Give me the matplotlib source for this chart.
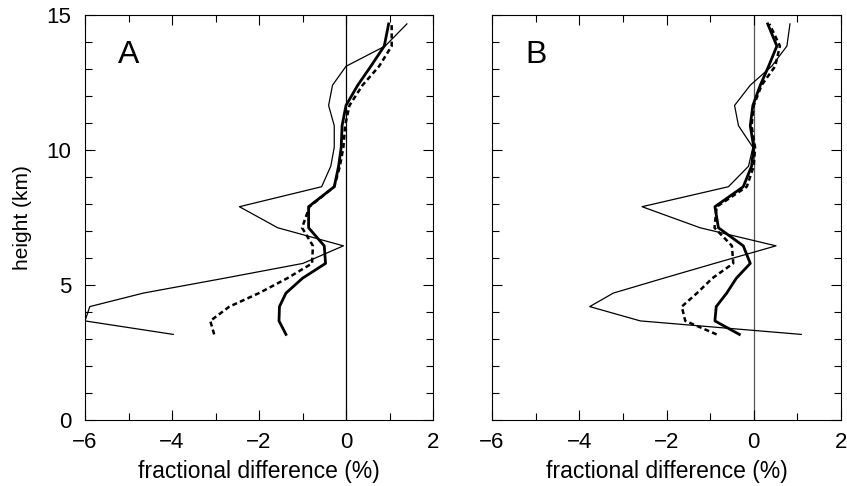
import numpy as np
import matplotlib
matplotlib.use("Agg")
import matplotlib.pyplot as plt
from matplotlib.ticker import MultipleLocator

plt.rcParams['font.family'] = ['Liberation Sans', 'DejaVu Sans']

# shared height levels (km)
heights = [3.17, 3.67, 4.2, 4.7, 5.25, 5.8, 6.45, 7.12, 7.9, 8.64,
           9.4, 10.1, 10.9, 11.65, 12.4, 13.1, 13.85, 14.67]

# panel A
a_thin = [-3.97, -6.0, -5.89, -4.66, -2.8, -0.99, -0.06, -1.57, -2.45, -0.56,
          -0.35, -0.27, -0.27, -0.40, -0.31, 0.0, 0.90, 1.40]
a_thick = [-1.38, -1.54, -1.53, -1.38, -1.0, -0.47, -0.50, -0.86, -0.86, -0.27,
           -0.17, -0.11, -0.09, 0.0, 0.27, 0.57, 0.88, 0.98]
a_dash = [-3.03, -3.12, -2.68, -2.0, -1.35, -0.78, -0.76, -1.01, -0.84, -0.27,
          -0.14, -0.06, -0.02, 0.08, 0.38, 0.76, 1.05, 1.05]

# panel B
b_thin = [1.09, -2.6, -3.76, -3.22, -2.07, -0.9, 0.51, -1.23, -2.56, -0.58,
          -0.12, -0.02, -0.35, -0.44, -0.08, 0.41, 0.76, 0.83]
b_thick = [-0.33, -0.89, -0.86, -0.62, -0.4, -0.08, -0.24, -0.81, -0.89, -0.24,
           -0.05, 0.0, -0.08, -0.02, 0.15, 0.34, 0.53, 0.32]
b_dash = [-0.85, -1.57, -1.65, -1.3, -0.95, -0.47, -0.5, -0.9, -0.85, -0.16,
          0.0, 0.03, -0.05, 0.0, 0.18, 0.49, 0.60, 0.36]

panels = [("A", a_thin, a_thick, a_dash), ("B", b_thin, b_thick, b_dash)]

W, H = 847, 486
fig = plt.figure(figsize=(W / 100, H / 100), dpi=100)
boxes = [(85, 433), (492, 841)]
top, bottom = 15, 420

for i, (name, thin, thick, dash) in enumerate(panels):
    l, r = boxes[i]
    ax = fig.add_axes([l / W, 1 - bottom / H, (r - l) / W, (bottom - top) / H])
    ax.axvline(0, color='black' if i == 0 else '#555555', lw=0.9, zorder=1)
    ax.plot(thin, heights, color='black', lw=0.9)
    ax.plot(thick, heights, color='black', lw=2.0)
    ax.plot(dash, heights, color='black', lw=1.8, linestyle=(0, (2, 1.3)))
    ax.set_xlim(-6, 2)
    ax.set_ylim(0, 15)
    ax.xaxis.set_major_locator(MultipleLocator(2))
    ax.xaxis.set_minor_locator(MultipleLocator(1))
    ax.yaxis.set_major_locator(MultipleLocator(5))
    ax.yaxis.set_minor_locator(MultipleLocator(1))
    ax.tick_params(which='both', direction='in', top=True, right=True,
                   labelsize=16, width=0.8)
    ax.tick_params(which='major', length=7)
    ax.tick_params(which='minor', length=5)
    ax.tick_params(axis='x', which='major', pad=9)
    ax.tick_params(axis='y', which='major', pad=10)
    ax.set_xlabel("fractional difference (%)", fontsize=16.5, labelpad=5)
    if i == 0:
        ax.set_ylabel("height (km)", fontsize=15, labelpad=10)
    else:
        ax.set_yticklabels([])
    for s in ax.spines.values():
        s.set_linewidth(0.8)
    ax.text(-5.0, 13.5, name, fontsize=23, ha='center', va='center')

fig.savefig("out.png", dpi=100)
